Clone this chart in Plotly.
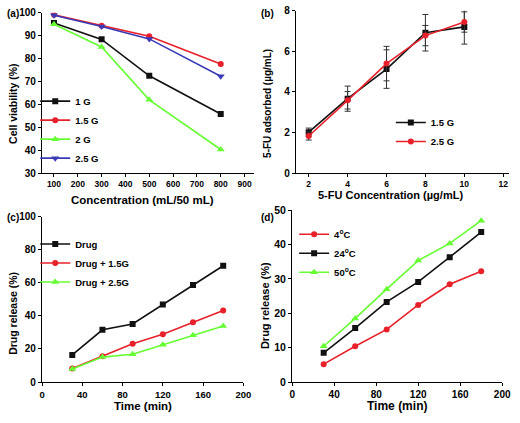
import plotly.graph_objects as go

W, H = 520, 423
FONT = "Liberation Sans, Arial, sans-serif"

# ---------------- data ----------------
# (a) cell viability
conc_a = [100, 300, 500, 800]
via_1g = [95.6, 88.4, 72.5, 55.8]
via_15g = [99.1, 94.3, 89.8, 77.6]
via_2g = [95.0, 85.1, 62.0, 40.3]
via_25g = [98.9, 94.0, 88.6, 72.3]

# (b) 5-FU adsorbed
conc_b = [2, 4, 6, 8, 10]
ads_15g = [2.02, 3.67, 5.13, 6.92, 7.21]
err_15g = [0.20, 0.62, 0.95, 0.90, 0.85]
ads_25g = [1.83, 3.59, 5.40, 6.78, 7.45]
err_25g = [0.20, 0.43, 0.85, 0.50, 0.50]

# (c) drug release
time_c = [30, 60, 90, 120, 150, 180]
rel_drug = [16.4, 31.6, 35.1, 47.0, 58.8, 70.4]
rel_drug15 = [8.2, 15.6, 23.2, 28.9, 36.2, 43.3]
rel_drug25 = [7.9, 15.1, 16.8, 22.6, 28.3, 33.9]

# (d) drug release vs temperature
time_d = [30, 60, 90, 120, 150, 180]
rel_4c = [5.2, 10.4, 15.3, 22.4, 28.4, 32.2]
rel_24c = [8.5, 15.7, 23.3, 29.1, 36.3, 43.6]
rel_50c = [10.4, 18.5, 27.0, 35.3, 40.3, 46.9]

BLACK = "#111111"
RED = "#e8202a"
GREEN = "#66ff33"
BLUE = "#3a3ab8"


def px(x):
    return x / W


def py(y):
    return 1 - y / H


fig = go.Figure()


def add(x, y, name, color, symbol, xa, ya, legend, size=6, err=None):
    tr = dict(
        x=x, y=y, name=name, mode="lines+markers",
        line=dict(color=color, width=1.6),
        marker=dict(color=color, symbol=symbol, size=size),
        xaxis=xa, yaxis=ya, legend=legend,
    )
    if err is not None:
        tr["error_y"] = dict(type="data", array=err, visible=True,
                             color="#333333", thickness=1, width=3)
    fig.add_trace(go.Scatter(**tr))


# (a)
add(conc_a, via_1g, "1 G", BLACK, "square", "x", "y", "legend")
add(conc_a, via_15g, "1.5 G", RED, "circle", "x", "y", "legend")
add(conc_a, via_2g, "2 G", GREEN, "triangle-up", "x", "y", "legend", 7)
add(conc_a, via_25g, "2.5 G", BLUE, "triangle-down", "x", "y", "legend", 7)
# (b)
add(conc_b, ads_15g, "1.5 G", BLACK, "square", "x2", "y2", "legend2", 6, err_15g)
add(conc_b, ads_25g, "2.5 G", RED, "circle", "x2", "y2", "legend2", 6, err_25g)
# (c)
add(time_c, rel_drug, "Drug", BLACK, "square", "x3", "y3", "legend3")
add(time_c, rel_drug15, "Drug + 1.5G", RED, "circle", "x3", "y3", "legend3")
add(time_c, rel_drug25, "Drug + 2.5G", GREEN, "triangle-up", "x3", "y3", "legend3", 7)
# (d)
add(time_d, rel_4c, "4<sup>o</sup>C", RED, "circle", "x4", "y4", "legend4")
add(time_d, rel_24c, "24<sup>o</sup>C", BLACK, "square", "x4", "y4", "legend4")
add(time_d, rel_50c, "50<sup>o</sup>C", GREEN, "triangle-up", "x4", "y4", "legend4", 7)


def axis(domain, rng, dtick, tick0, anchor, fs):
    return dict(domain=domain, range=rng, dtick=dtick, tick0=tick0,
                showline=True, linecolor="black", linewidth=1.3,
                ticks="outside", ticklen=3, tickwidth=1.2, tickcolor="black",
                showgrid=False, zeroline=False,
                tickfont=dict(family=FONT, size=fs, color="black", weight="bold"),
                anchor=anchor, fixedrange=True)


legfont = dict(family=FONT, size=9.5, color="black", weight="bold")


def legend(xp, yp):
    return dict(x=px(xp), y=py(yp), xanchor="left", yanchor="top",
                bgcolor="rgba(0,0,0,0)", font=legfont, tracegroupgap=0,
                borderwidth=0)


fig.update_layout(
    width=W, height=H,
    margin=dict(l=0, r=0, t=0, b=0),
    paper_bgcolor="white", plot_bgcolor="white",
    showlegend=True,
    xaxis=axis([px(40), px(257)], [50, 940], 100, 100, "y", 8.5),
    yaxis=axis([py(172), py(7)], [30, 100], 10, 30, "x", 10),
    xaxis2=axis([px(300), px(518)], [1.35, 12.3], 2, 2, "y2", 8.5),
    yaxis2=axis([py(172), py(5)], [0, 8], 2, 0, "x2", 10),
    xaxis3=axis([px(40), px(246)], [0, 200], 40, 0, "y3", 9.5),
    yaxis3=axis([py(387), py(217)], [0, 100], 20, 0, "x3", 10),
    xaxis4=axis([px(296), px(511)], [0, 200], 40, 0, "y4", 10),
    yaxis4=axis([py(387), py(210)], [0, 50], 10, 0, "x4", 10.5),
    legend=legend(33, 83),
    legend2=legend(397, 105),
    legend3=legend(33, 230),
    legend4=legend(298, 220),
)

annots = [
    # panel labels
    ("(a)", 2, 8, 0, 10, "left"),
    ("(b)", 262, 8, 0, 10, "left"),
    ("(c)", 2, 218, 0, 10, "left"),
    ("(d)", 262, 218, 0, 10, "left"),
    # axis titles
    ("Cell viability (%)", 10, 100, -90, 10.5, "center"),
    ("Concentration (mL/50 mL)", 143, 200, 0, 11.5, "center"),
    ("5-FU adsorbed (µg/mL)", 270, 100, -90, 10, "center"),
    ("5-FU Concentration (µg/mL)", 397, 195, 0, 11, "center"),
    ("Drug release (%)", 10, 316, -90, 10.5, "center"),
    ("Time (min)", 143, 412, 0, 11.5, "center"),
    ("Drug release (%)", 268, 308, -90, 11, "center"),
    ("Time (min)", 403, 412, 0, 12, "center"),
]
for text, x, y, ang, size, xa in annots:
    fig.add_annotation(text=text, x=px(x), y=py(y), xref="paper", yref="paper",
                       xanchor=xa, yanchor="middle", textangle=ang,
                       showarrow=False,
                       font=dict(family=FONT, size=size, color="black", weight="bold"))

fig.write_html("out.html", config={"displayModeBar": False},
               post_script="document.body.style.margin='0';")
